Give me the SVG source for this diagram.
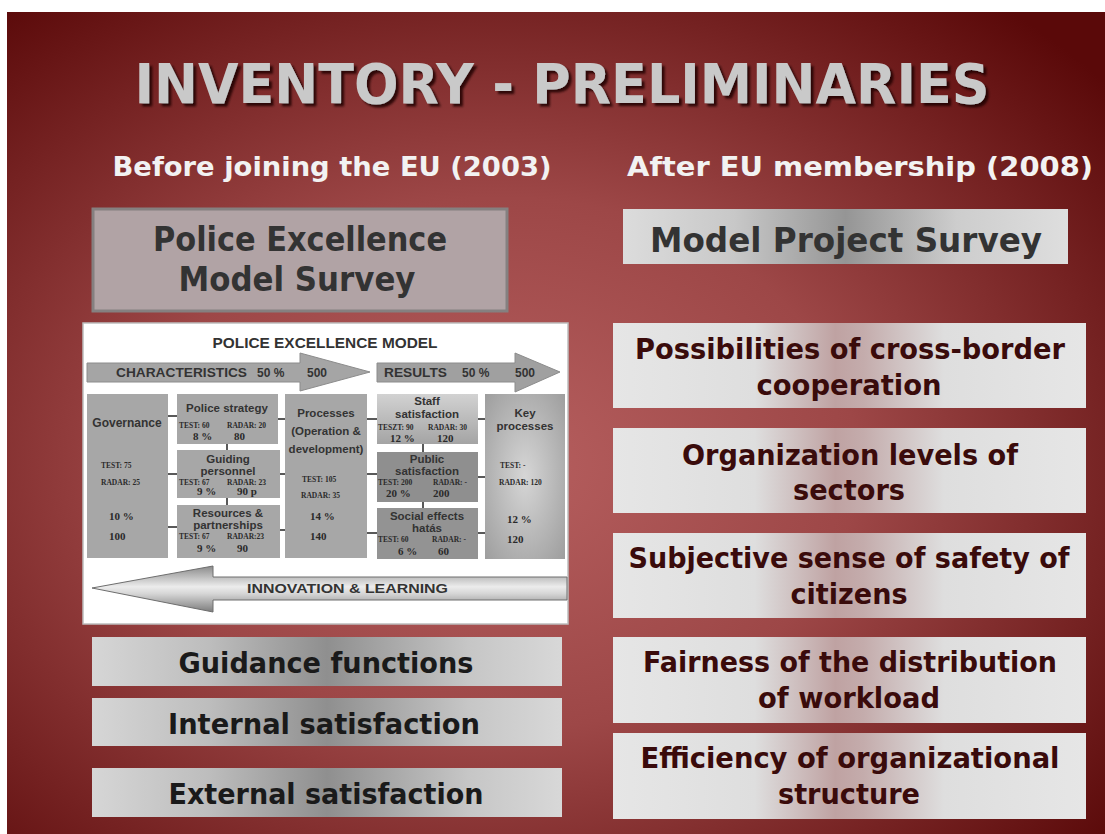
<svg xmlns="http://www.w3.org/2000/svg" width="1105" height="834" viewBox="0 0 1105 834">
<defs>
<radialGradient id="bg" cx="0.45" cy="0.55" r="0.72">
<stop offset="0" stop-color="#b65f5f"/>
<stop offset="0.45" stop-color="#9d4747"/>
<stop offset="1" stop-color="#5a0909"/>
</radialGradient>
<filter id="tsh" x="-5%" y="-20%" width="110%" height="150%">
<feDropShadow dx="3" dy="3" stdDeviation="1.2" flood-color="#1e0404" flood-opacity="0.85"/>
</filter>
<linearGradient id="gRight" x1="0" y1="0" x2="1" y2="0">
<stop offset="0" stop-color="#e6e6e6"/>
<stop offset="0.3" stop-color="#dedede"/>
<stop offset="0.47" stop-color="#bfa2a2"/>
<stop offset="0.53" stop-color="#c4acac"/>
<stop offset="0.7" stop-color="#dedede"/>
<stop offset="1" stop-color="#e6e6e6"/>
</linearGradient>
<linearGradient id="gMPS" x1="0" y1="0" x2="1" y2="0">
<stop offset="0" stop-color="#dcdcdc"/>
<stop offset="0.25" stop-color="#c8c8c8"/>
<stop offset="0.5" stop-color="#959595"/>
<stop offset="0.75" stop-color="#cdcdcd"/>
<stop offset="1" stop-color="#dedede"/>
</linearGradient>
<linearGradient id="gLeft" x1="0" y1="0" x2="1" y2="0">
<stop offset="0" stop-color="#d6d6d6"/>
<stop offset="0.25" stop-color="#bdbdbd"/>
<stop offset="0.5" stop-color="#8f8f8f"/>
<stop offset="0.8" stop-color="#c6c6c6"/>
<stop offset="1" stop-color="#d8d8d8"/>
</linearGradient>
<linearGradient id="gStaff" x1="0" y1="0" x2="0" y2="1">
<stop offset="0" stop-color="#d2d2d2"/>
<stop offset="1" stop-color="#a4a4a4"/>
</linearGradient>
<radialGradient id="gKey" cx="0.5" cy="0.5" r="0.7">
<stop offset="0" stop-color="#d6d6d6"/>
<stop offset="1" stop-color="#9e9e9e"/>
</radialGradient>
<linearGradient id="gInno" x1="0" y1="0" x2="0" y2="1">
<stop offset="0" stop-color="#8a8a8a"/>
<stop offset="0.45" stop-color="#ececec"/>
<stop offset="0.6" stop-color="#d6d6d6"/>
<stop offset="1" stop-color="#7c7c7c"/>
</linearGradient>
<style>
.h{font-family:"DejaVu Sans","Liberation Sans",sans-serif;font-weight:bold}
.title{font-size:55px;fill:#c9c9c9}
.sub{font-size:27px;fill:#f2f2f2}
.big{font-size:34px;fill:#333}
.rt{font-size:29px;fill:#3a0b0b}
.lt{font-size:28px;fill:#1a1a1a}
.m{font-family:"Liberation Sans",Arial,sans-serif;font-weight:bold;fill:#333}
.ml{font-size:11.5px}
.s{font-family:"Liberation Serif","Times New Roman",serif;font-weight:bold;fill:#2a2a2a;font-size:7.5px}
.v{font-family:"Liberation Serif","Times New Roman",serif;font-weight:bold;fill:#2a2a2a;font-size:11px}
.box{fill:#a7a7a7}
.c{stroke:#222;stroke-width:1.5}
</style>
</defs>
<rect x="0" y="0" width="1105" height="834" fill="#ffffff"/>
<rect x="7" y="12" width="1098" height="822" fill="url(#bg)"/>

<g id="title">
<text class="h title" x="562" y="103" text-anchor="middle" textLength="855" lengthAdjust="spacingAndGlyphs" filter="url(#tsh)">INVENTORY - PRELIMINARIES</text>
</g>
<g id="subtitles">
<text class="h sub" x="332" y="176" text-anchor="middle" textLength="439" lengthAdjust="spacingAndGlyphs">Before joining the EU (2003)</text>
<text class="h sub" x="860" y="176" text-anchor="middle" textLength="466" lengthAdjust="spacingAndGlyphs">After EU membership (2008)</text>
</g>

<g id="node-pems">
<rect x="93" y="209" width="414" height="102" fill="#b1a3a5" stroke="#858080" stroke-width="3"/>
<text class="h big" x="300" y="251" text-anchor="middle" textLength="294" lengthAdjust="spacingAndGlyphs">Police Excellence</text>
<text class="h big" x="297" y="291" text-anchor="middle" textLength="237" lengthAdjust="spacingAndGlyphs">Model Survey</text>
</g>

<g id="node-mps">
<rect x="623" y="209" width="445" height="55" fill="url(#gMPS)"/>
<text class="h big" x="846" y="252" text-anchor="middle" textLength="392" lengthAdjust="spacingAndGlyphs">Model Project Survey</text>
</g>

<g id="node-r1">
<rect x="613" y="323" width="473" height="85" fill="url(#gRight)"/>
<text class="h rt" x="850" y="359" text-anchor="middle" textLength="430" lengthAdjust="spacingAndGlyphs">Possibilities of cross-border</text>
<text class="h rt" x="849" y="395" text-anchor="middle" textLength="185" lengthAdjust="spacingAndGlyphs">cooperation</text>
</g>
<g id="node-r2">
<rect x="613" y="428" width="473" height="85" fill="url(#gRight)"/>
<text class="h rt" x="850" y="465" text-anchor="middle" textLength="336" lengthAdjust="spacingAndGlyphs">Organization levels of</text>
<text class="h rt" x="849" y="500" text-anchor="middle" textLength="112" lengthAdjust="spacingAndGlyphs">sectors</text>
</g>
<g id="node-r3">
<rect x="613" y="533" width="473" height="85" fill="url(#gRight)"/>
<text class="h rt" x="849" y="568" text-anchor="middle" textLength="441" lengthAdjust="spacingAndGlyphs">Subjective sense of safety of</text>
<text class="h rt" x="849" y="604" text-anchor="middle" textLength="117" lengthAdjust="spacingAndGlyphs">citizens</text>
</g>
<g id="node-r4">
<rect x="613" y="637" width="473" height="86" fill="url(#gRight)"/>
<text class="h rt" x="850" y="672" text-anchor="middle" textLength="414" lengthAdjust="spacingAndGlyphs">Fairness of the distribution</text>
<text class="h rt" x="849" y="708" text-anchor="middle" textLength="182" lengthAdjust="spacingAndGlyphs">of workload</text>
</g>
<g id="node-r5">
<rect x="613" y="733" width="473" height="86" fill="url(#gRight)"/>
<text class="h rt" x="850" y="768" text-anchor="middle" textLength="419" lengthAdjust="spacingAndGlyphs">Efficiency of organizational</text>
<text class="h rt" x="849" y="804" text-anchor="middle" textLength="142" lengthAdjust="spacingAndGlyphs">structure</text>
</g>

<g id="node-l1">
<rect x="92" y="637" width="470" height="49" fill="url(#gLeft)"/>
<text class="h lt" x="326" y="673" text-anchor="middle" textLength="295" lengthAdjust="spacingAndGlyphs">Guidance functions</text>
</g>
<g id="node-l2">
<rect x="92" y="698" width="470" height="48" fill="url(#gLeft)"/>
<text class="h lt" x="324" y="734" text-anchor="middle" textLength="312" lengthAdjust="spacingAndGlyphs">Internal satisfaction</text>
</g>
<g id="node-l3">
<rect x="92" y="768" width="470" height="49" fill="url(#gLeft)"/>
<text class="h lt" x="326" y="804" text-anchor="middle" textLength="315" lengthAdjust="spacingAndGlyphs">External satisfaction</text>
</g>

<g id="model">
<rect x="83" y="323" width="485" height="301" fill="#ffffff" stroke="#bdbdbd" stroke-width="1.5"/>
<text class="m" x="325" y="348" text-anchor="middle" font-size="15" textLength="225" lengthAdjust="spacingAndGlyphs">POLICE EXCELLENCE MODEL</text>

<g id="arrow-characteristics">
<polygon points="87,363 300,363 300,353 370,372 300,391 300,382 87,382" fill="#a5a5a5" stroke="#8c8c8c" stroke-width="1"/>
<text class="m" x="116" y="377" font-size="12" textLength="131" lengthAdjust="spacingAndGlyphs">CHARACTERISTICS</text>
<text class="m" x="257" y="377" font-size="12">50 %</text>
<text class="m" x="307" y="377" font-size="12">500</text>
</g>
<g id="arrow-results">
<polygon points="377,363 515,363 515,353 560,372 515,392 515,382 377,382" fill="#a0a0a0" stroke="#8c8c8c" stroke-width="1"/>
<text class="m" x="384" y="377" font-size="12" textLength="63" lengthAdjust="spacingAndGlyphs">RESULTS</text>
<text class="m" x="462" y="377" font-size="12">50 %</text>
<text class="m" x="515" y="377" font-size="12">500</text>
</g>

<g id="connectors">
<line class="c" x1="168" y1="416" x2="177" y2="416"/>
<line class="c" x1="168" y1="474" x2="177" y2="474"/>
<line class="c" x1="168" y1="527" x2="177" y2="527"/>
<line class="c" x1="278" y1="419" x2="285" y2="419"/>
<line class="c" x1="280" y1="474" x2="285" y2="474"/>
<line class="c" x1="280" y1="530" x2="285" y2="530"/>
<line class="c" x1="367" y1="419" x2="377" y2="419"/>
<line class="c" x1="367" y1="474" x2="377" y2="474"/>
<line class="c" x1="367" y1="533" x2="377" y2="533"/>
<line class="c" x1="478" y1="419" x2="485" y2="419"/>
<line class="c" x1="478" y1="477" x2="485" y2="477"/>
<line class="c" x1="478" y1="533" x2="485" y2="533"/>
<line class="c" x1="227" y1="444" x2="227" y2="450"/>
<line class="c" x1="227" y1="498" x2="227" y2="505"/>
<line class="c" x1="423" y1="444" x2="423" y2="452"/>
<line class="c" x1="423" y1="502" x2="423" y2="508"/>
</g>

<g id="m-governance">
<rect class="box" x="87" y="394" width="81" height="164"/>
<text class="m" x="127" y="427" font-size="12" text-anchor="middle">Governance</text>
<text class="s" x="101" y="468">TEST: 75</text>
<text class="s" x="101" y="485">RADAR: 25</text>
<text class="v" x="109" y="520">10 %</text>
<text class="v" x="109" y="540">100</text>
</g>
<g id="m-strategy">
<rect class="box" x="177" y="394" width="101" height="50"/>
<text class="m ml" x="227" y="412" text-anchor="middle">Police strategy</text>
<text class="s" x="179" y="428">TEST: 60</text>
<text class="s" x="227" y="428">RADAR: 20</text>
<text class="v" x="193" y="440">8 %</text>
<text class="v" x="234" y="440">80</text>
</g>
<g id="m-guiding">
<rect class="box" x="177" y="450" width="103" height="48"/>
<text class="m ml" x="228" y="463" text-anchor="middle">Guiding</text>
<text class="m ml" x="228" y="475" text-anchor="middle">personnel</text>
<text class="s" x="179" y="485">TEST: 67</text>
<text class="s" x="227" y="485">RADAR: 23</text>
<text class="v" x="197" y="495">9 %</text>
<text class="v" x="237" y="495">90 p</text>
</g>
<g id="m-resources">
<rect class="box" x="177" y="505" width="103" height="53"/>
<text class="m ml" x="228" y="517" text-anchor="middle">Resources &amp;</text>
<text class="m ml" x="228" y="529" text-anchor="middle">partnerships</text>
<text class="s" x="179" y="539">TEST: 67</text>
<text class="s" x="227" y="539">RADAR:23</text>
<text class="v" x="197" y="552">9 %</text>
<text class="v" x="237" y="552">90</text>
</g>
<g id="m-processes">
<rect class="box" x="285" y="394" width="82" height="164"/>
<text class="m ml" x="326" y="417" text-anchor="middle">Processes</text>
<text class="m ml" x="326" y="435" text-anchor="middle">(Operation &amp;</text>
<text class="m ml" x="326" y="453" text-anchor="middle">development)</text>
<text class="s" x="302" y="482">TEST: 105</text>
<text class="s" x="301" y="498">RADAR: 35</text>
<text class="v" x="310" y="520">14 %</text>
<text class="v" x="310" y="540">140</text>
</g>
<g id="m-staff">
<rect x="377" y="394" width="101" height="50" fill="url(#gStaff)"/>
<text class="m ml" x="427" y="405" text-anchor="middle">Staff</text>
<text class="m ml" x="427" y="418" text-anchor="middle">satisfaction</text>
<text class="s" x="378" y="430">TESZT: 90</text>
<text class="s" x="428" y="430">RADAR: 30</text>
<text class="v" x="390" y="442">12 %</text>
<text class="v" x="437" y="442">120</text>
</g>
<g id="m-public">
<rect x="377" y="452" width="101" height="50" fill="#8f8f8f"/>
<text class="m ml" x="427" y="463" text-anchor="middle">Public</text>
<text class="m ml" x="427" y="475" text-anchor="middle">satisfaction</text>
<text class="s" x="378" y="485">TEST: 200</text>
<text class="s" x="433" y="485">RADAR: -</text>
<text class="v" x="386" y="497">20 %</text>
<text class="v" x="433" y="497">200</text>
</g>
<g id="m-social">
<rect x="377" y="508" width="101" height="51" fill="#939393"/>
<text class="m ml" x="427" y="520" text-anchor="middle">Social effects</text>
<text class="m ml" x="427" y="532" text-anchor="middle">hatás</text>
<text class="s" x="378" y="542">TEST: 60</text>
<text class="s" x="432" y="542">RADAR: -</text>
<text class="v" x="398" y="555">6 %</text>
<text class="v" x="438" y="555">60</text>
</g>
<g id="m-key">
<rect x="485" y="394" width="80" height="165" fill="url(#gKey)"/>
<text class="m ml" x="525" y="417" text-anchor="middle">Key</text>
<text class="m ml" x="525" y="430" text-anchor="middle">processes</text>
<text class="s" x="500" y="468">TEST: -</text>
<text class="s" x="499" y="485">RADAR: 120</text>
<text class="v" x="507" y="523">12 %</text>
<text class="v" x="507" y="543">120</text>
</g>

<g id="arrow-innovation">
<polygon points="92,588 213,566 213,577 567,577 567,600 213,600 213,612" fill="url(#gInno)" stroke="#6e6e6e" stroke-width="1"/>
<text class="m" x="247" y="593" font-size="13" textLength="201" lengthAdjust="spacingAndGlyphs">INNOVATION &amp; LEARNING</text>
</g>
</g>
</svg>
